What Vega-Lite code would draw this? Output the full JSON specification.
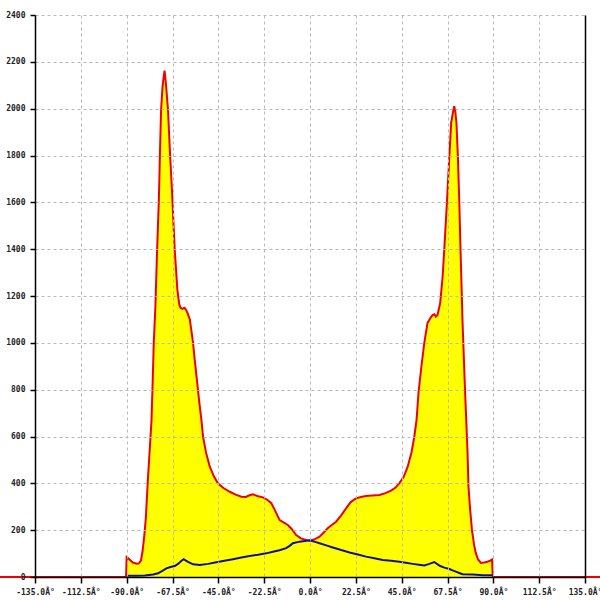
{
  "$schema": "https://vega.github.io/schema/vega-lite/v6.json",
  "width": 550,
  "height": 562,
  "autosize": "none",
  "padding": {"left": 35, "top": 15, "right": 15, "bottom": 23},
  "background": "white",
  "config": {
    "view": {"stroke": null},
    "axis": {
      "gridColor": "#b8b8b8",
      "gridDash": [3, 3],
      "gridWidth": 1,
      "domainColor": "black",
      "domainWidth": 1.5,
      "tickColor": "black",
      "tickWidth": 1.5,
      "labelFont": "DejaVu Sans Mono",
      "labelFontWeight": "bold",
      "labelFontSize": 8,
      "labelColor": "#222222",
      "title": null
    }
  },
  "datasets": {
    "red": [
      {"angle": -153, "count": 0},
      {"angle": -90.3, "count": 0},
      {"angle": -90, "count": 85},
      {"angle": -89, "count": 78},
      {"angle": -87, "count": 62},
      {"angle": -85, "count": 57},
      {"angle": -84, "count": 58},
      {"angle": -83, "count": 70},
      {"angle": -82.2, "count": 110},
      {"angle": -81.3, "count": 180},
      {"angle": -80.6, "count": 250},
      {"angle": -79.6, "count": 414},
      {"angle": -78.7, "count": 540},
      {"angle": -77.8, "count": 670},
      {"angle": -77.2, "count": 841},
      {"angle": -76.7, "count": 999},
      {"angle": -75.9, "count": 1153},
      {"angle": -75.1, "count": 1384},
      {"angle": -74.2, "count": 1610},
      {"angle": -73.7, "count": 1794},
      {"angle": -73.1, "count": 1994},
      {"angle": -72.4, "count": 2093},
      {"angle": -71.9, "count": 2130},
      {"angle": -71.4, "count": 2162},
      {"angle": -71.0, "count": 2130},
      {"angle": -70.6, "count": 2093},
      {"angle": -69.7, "count": 1994},
      {"angle": -68.8, "count": 1823},
      {"angle": -67.7, "count": 1640},
      {"angle": -66.4, "count": 1396},
      {"angle": -65.1, "count": 1226},
      {"angle": -64.2, "count": 1165},
      {"angle": -63.6, "count": 1150},
      {"angle": -62.6, "count": 1145},
      {"angle": -61.6, "count": 1150},
      {"angle": -60.8, "count": 1140},
      {"angle": -60.0, "count": 1125},
      {"angle": -59.0, "count": 1100},
      {"angle": -58.2, "count": 1050},
      {"angle": -57.4, "count": 999},
      {"angle": -56.5, "count": 920},
      {"angle": -55.5, "count": 841},
      {"angle": -54.4, "count": 750},
      {"angle": -53.3, "count": 670},
      {"angle": -52.5, "count": 599},
      {"angle": -51.0, "count": 530},
      {"angle": -49.2, "count": 471},
      {"angle": -47.2, "count": 430},
      {"angle": -45.2, "count": 400},
      {"angle": -42.5, "count": 380},
      {"angle": -39.4, "count": 364},
      {"angle": -36.5, "count": 352},
      {"angle": -33.7, "count": 343},
      {"angle": -31.5, "count": 342},
      {"angle": -30, "count": 348},
      {"angle": -28.0, "count": 353},
      {"angle": -25.5, "count": 345},
      {"angle": -23.1, "count": 340},
      {"angle": -21, "count": 330},
      {"angle": -19.0, "count": 315},
      {"angle": -17.5, "count": 290},
      {"angle": -14.9, "count": 243},
      {"angle": -12.8, "count": 232},
      {"angle": -10.9, "count": 222},
      {"angle": -9, "count": 205},
      {"angle": -6.8, "count": 179},
      {"angle": -4.5, "count": 165},
      {"angle": -1.9, "count": 158},
      {"angle": -0.2, "count": 155},
      {"angle": 2, "count": 160},
      {"angle": 4.7, "count": 172},
      {"angle": 6.5, "count": 188},
      {"angle": 8.7, "count": 208},
      {"angle": 10.7, "count": 222},
      {"angle": 12.8, "count": 236},
      {"angle": 15.2, "count": 262},
      {"angle": 17.7, "count": 293},
      {"angle": 20, "count": 320},
      {"angle": 22.6, "count": 336},
      {"angle": 25, "count": 342},
      {"angle": 27.5, "count": 346},
      {"angle": 30.5, "count": 348},
      {"angle": 34.1, "count": 350},
      {"angle": 37, "count": 358},
      {"angle": 39.8, "count": 369},
      {"angle": 42, "count": 382},
      {"angle": 44, "count": 402},
      {"angle": 46, "count": 428},
      {"angle": 48, "count": 472},
      {"angle": 49.9, "count": 535},
      {"angle": 51.2, "count": 599},
      {"angle": 52.3, "count": 670},
      {"angle": 53.3, "count": 790},
      {"angle": 54.7, "count": 900},
      {"angle": 56.1, "count": 999},
      {"angle": 57.7, "count": 1085},
      {"angle": 59.4, "count": 1110},
      {"angle": 60.2, "count": 1119},
      {"angle": 61.0, "count": 1122},
      {"angle": 61.8, "count": 1112},
      {"angle": 62.6, "count": 1119},
      {"angle": 63.9, "count": 1170},
      {"angle": 65.1, "count": 1281},
      {"angle": 65.9, "count": 1396},
      {"angle": 67.2, "count": 1597},
      {"angle": 68.4, "count": 1794},
      {"angle": 69.3, "count": 1939},
      {"angle": 70.3, "count": 1990},
      {"angle": 70.8, "count": 2010},
      {"angle": 71.3, "count": 1990},
      {"angle": 71.9, "count": 1939},
      {"angle": 72.6, "count": 1794},
      {"angle": 73.3, "count": 1597},
      {"angle": 73.9, "count": 1396},
      {"angle": 74.9, "count": 1085},
      {"angle": 76.1, "count": 799},
      {"angle": 77.3, "count": 542},
      {"angle": 77.8, "count": 386},
      {"angle": 78.6, "count": 290},
      {"angle": 79.5, "count": 201},
      {"angle": 80.5, "count": 140},
      {"angle": 81.4, "count": 102},
      {"angle": 82.5, "count": 75},
      {"angle": 83.9, "count": 60},
      {"angle": 85.5, "count": 62},
      {"angle": 87.1, "count": 65},
      {"angle": 88.5, "count": 70},
      {"angle": 89.4, "count": 75},
      {"angle": 89.7, "count": 0},
      {"angle": 143, "count": 0}
    ],
    "blue": [
      {"angle": -90, "count": 5},
      {"angle": -85, "count": 5},
      {"angle": -81.1, "count": 6},
      {"angle": -77, "count": 11},
      {"angle": -74.6, "count": 16},
      {"angle": -72.5, "count": 26},
      {"angle": -70.5, "count": 37},
      {"angle": -68.5, "count": 43},
      {"angle": -66.4, "count": 47},
      {"angle": -64.8, "count": 56},
      {"angle": -63.2, "count": 68},
      {"angle": -62.0, "count": 76},
      {"angle": -60.9, "count": 70},
      {"angle": -59.9, "count": 65},
      {"angle": -57.4, "count": 54},
      {"angle": -54.1, "count": 51},
      {"angle": -50, "count": 56},
      {"angle": -46.0, "count": 63},
      {"angle": -42, "count": 69},
      {"angle": -37.8, "count": 76},
      {"angle": -33.7, "count": 83},
      {"angle": -29.6, "count": 90},
      {"angle": -25.5, "count": 95},
      {"angle": -21.5, "count": 101},
      {"angle": -18.2, "count": 108},
      {"angle": -15, "count": 114},
      {"angle": -11.7, "count": 123},
      {"angle": -10, "count": 133},
      {"angle": -8.4, "count": 144},
      {"angle": -5.1, "count": 151},
      {"angle": -2.5, "count": 154},
      {"angle": -0.2, "count": 157},
      {"angle": 2.5, "count": 150},
      {"angle": 4.7, "count": 144},
      {"angle": 8, "count": 135},
      {"angle": 11.2, "count": 126},
      {"angle": 15.3, "count": 115},
      {"angle": 19.4, "count": 105},
      {"angle": 23.5, "count": 96},
      {"angle": 27.5, "count": 87},
      {"angle": 31.6, "count": 80},
      {"angle": 35.7, "count": 73},
      {"angle": 39.8, "count": 69},
      {"angle": 43.9, "count": 65},
      {"angle": 47, "count": 61},
      {"angle": 50.4, "count": 56},
      {"angle": 53.5, "count": 52},
      {"angle": 56.1, "count": 49},
      {"angle": 58.6, "count": 56},
      {"angle": 61.0, "count": 64},
      {"angle": 62.5, "count": 55},
      {"angle": 63.9, "count": 47},
      {"angle": 66, "count": 40},
      {"angle": 68.4, "count": 34},
      {"angle": 70, "count": 28},
      {"angle": 71.6, "count": 23},
      {"angle": 73.3, "count": 17},
      {"angle": 74.9, "count": 12},
      {"angle": 79.8, "count": 11},
      {"angle": 85, "count": 8},
      {"angle": 89.6, "count": 7}
    ]
  },
  "layer": [
    {
      "data": {"name": "red"},
      "mark": {"type": "area", "color": "#ffff00", "opacity": 1, "clip": false},
      "encoding": {
        "x": {
          "field": "angle",
          "type": "quantitative",
          "scale": {"domain": [-135, 135], "nice": false, "zero": false},
          "axis": {
            "values": [-135, -112.5, -90, -67.5, -45, -22.5, 0, 22.5, 45, 67.5, 90, 112.5, 135],
            "labelExpr": "(datum.value < 0 ? '-' : '') + format(abs(datum.value), '.1f') + 'Â°'",
            "tickSize": 6,
            "labelPadding": 5,
            "labelBaseline": "top",
            "labelFlush": false,
            "labelOverlap": false,
            "grid": true,
            "zindex": 1
          }
        },
        "y": {
          "field": "count",
          "type": "quantitative",
          "stack": null,
          "scale": {"domain": [0, 2400], "nice": false},
          "axis": {
            "values": [0, 200, 400, 600, 800, 1000, 1200, 1400, 1600, 1800, 2000, 2200, 2400],
            "format": "d",
            "tickSize": 5,
            "labelPadding": 5,
            "labelFlush": false,
            "grid": true,
            "zindex": 1
          }
        }
      }
    },
    {
      "data": {"name": "red"},
      "mark": {"type": "line", "color": "#ee0000", "strokeWidth": 2, "clip": false},
      "encoding": {
        "x": {"field": "angle", "type": "quantitative"},
        "y": {"field": "count", "type": "quantitative", "axis": null}
      }
    },
    {
      "data": {"name": "blue"},
      "mark": {"type": "line", "color": "#1010a0", "strokeWidth": 2},
      "encoding": {
        "x": {"field": "angle", "type": "quantitative"},
        "y": {
          "field": "count",
          "type": "quantitative",
          "axis": {
            "orient": "right",
            "labels": false,
            "ticks": false,
            "grid": false,
            "domainColor": "black",
            "zindex": 1
          }
        }
      }
    }
  ],
  "resolve": {"axis": {"y": "independent"}}
}
